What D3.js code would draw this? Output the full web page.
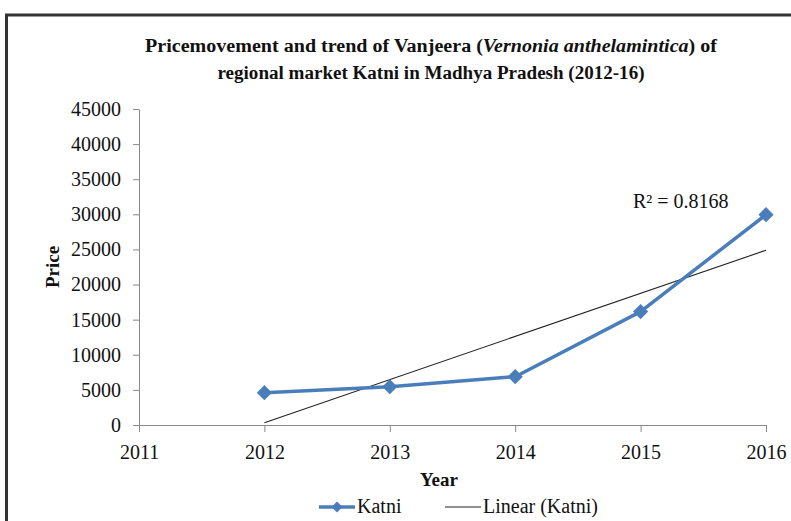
<!DOCTYPE html>
<html>
<head>
<meta charset="utf-8">
<script src="https://cdn.jsdelivr.net/npm/d3@7"></script>
<style>
  body { margin: 0; background: #fff; }
  svg text { font-family: "Liberation Serif", "DejaVu Serif", serif !important; fill: #111; }
</style>
</head>
<body>
<script>
const wi = 791, hi = 521;     // width & height
const years = [2012, 2013, 2014, 2015, 2016];
const prices = [4600, 5450, 6880, 16150, 29950];
const yTicks = [0, 5000, 10000, 15000, 20000, 25000, 30000, 35000, 40000, 45000];
const xTicks = [2011, 2012, 2013, 2014, 2015, 2016];
const r2Label = 'R² = 0.8168';

const serif = '"Liberation Serif", "DejaVu Serif", serif';
const margin = {left: 139, right: 25, top: 109, bottom: 96};

let svg = d3.select('body')
    .append('svg')
    .attr('width', wi)
    .attr('height', hi)
    .attr('font-family', serif);

// outer frame (only top and left edges show)
svg.append('path')
    .attr('d', `M6.5,${hi} V15 H${wi}`)
    .attr('fill', 'none')
    .attr('stroke', '#333')
    .attr('stroke-width', 3);

let x = d3.scaleLinear().domain([2011, 2016]).range([margin.left, wi - margin.right]);
let y = d3.scaleLinear().domain([0, 45000]).range([hi - margin.bottom, margin.top]);

// axes
let xAxis = svg.append('g')
    .attr('transform', `translate(0,${y(0)})`)
    .call(d3.axisBottom(x).tickValues(xTicks).tickFormat(d3.format('d')).tickSize(7).tickSizeOuter(0).tickPadding(13));
let yAxis = svg.append('g')
    .attr('transform', `translate(${x(2011)},0)`)
    .call(d3.axisLeft(y).tickValues(yTicks).tickFormat(d => d).tickSize(6).tickSizeOuter(0).tickPadding(12));

[xAxis, yAxis].forEach(g => {
    g.attr('font-family', serif).attr('font-size', 20);
    g.select('.domain').attr('stroke', '#888');
    g.selectAll('.tick line').attr('stroke', '#888');
    g.selectAll('.tick text').attr('fill', '#111');
});

// linear trend from the data (least squares)
let n = years.length;
let mx = d3.mean(years), my = d3.mean(prices);
let slope = d3.sum(years, (d, i) => (d - mx) * (prices[i] - my)) / d3.sum(years, d => (d - mx) ** 2);
let icpt = my - slope * mx;
let trend = [years[0], years[n - 1]].map(d => ({year: d, price: icpt + slope * d}));

let line = d3.line()
    .x(d => x(d.year))
    .y(d => y(d.price));

svg.append('path')
    .attr('d', line(trend))
    .attr('stroke', '#222')
    .attr('stroke-width', 1.1)
    .attr('fill', 'none');

let series = years.map((d, i) => ({year: d, price: prices[i]}));
svg.append('path')
    .attr('d', line(series))
    .attr('stroke', '#4a7ebb')
    .attr('stroke-width', 3.5)
    .attr('stroke-linejoin', 'round')
    .attr('fill', 'none');

let diamond = d3.symbol(d3.symbolSquare, 115);
svg.selectAll('.pt')
    .data(series)
    .enter()
    .append('path')
    .attr('class', 'pt')
    .attr('d', diamond)
    .attr('transform', d => `translate(${x(d.year)},${y(d.price)}) rotate(45)`)
    .attr('fill', '#4a7ebb');

// R² label
svg.append('text')
    .attr('x', 633)
    .attr('y', 208)
    .attr('font-size', 20)
    .text(r2Label);

// title
let title = svg.append('g').attr('font-weight', 'bold').attr('font-size', 18);
let t1 = title.append('text')
    .attr('x', 431).attr('y', 52)
    .attr('text-anchor', 'middle')
    .attr('textLength', 572).attr('lengthAdjust', 'spacingAndGlyphs');
t1.append('tspan').text('Pricemovement and trend of Vanjeera (');
t1.append('tspan').attr('font-style', 'italic').text('Vernonia anthelamintica');
t1.append('tspan').text(') of');
title.append('text')
    .attr('x', 431).attr('y', 79)
    .attr('text-anchor', 'middle')
    .attr('textLength', 427).attr('lengthAdjust', 'spacingAndGlyphs')
    .text('regional market Katni in Madhya Pradesh (2012-16)');

// axis titles
svg.append('text')
    .attr('transform', `translate(59,${(y(0) + y(45000)) / 2}) rotate(-90)`)
    .attr('text-anchor', 'middle')
    .attr('font-weight', 'bold')
    .attr('font-size', 19)
    .text('Price');
svg.append('text')
    .attr('x', 439).attr('y', 486)
    .attr('text-anchor', 'middle')
    .attr('font-weight', 'bold')
    .attr('font-size', 19)
    .text('Year');

// legend
let lg = svg.append('g').attr('transform', 'translate(0,507)');
lg.append('line').attr('x1', 319).attr('x2', 355).attr('y1', 0).attr('y2', 0)
    .attr('stroke', '#4a7ebb').attr('stroke-width', 3.5);
lg.append('path').attr('d', d3.symbol(d3.symbolSquare, 60))
    .attr('transform', 'translate(337,0) rotate(45)').attr('fill', '#4a7ebb');
lg.append('text').attr('x', 357).attr('y', 6).attr('font-size', 20).text('Katni');
lg.append('line').attr('x1', 445).attr('x2', 481).attr('y1', 0).attr('y2', 0)
    .attr('stroke', '#222').attr('stroke-width', 1.1);
lg.append('text').attr('x', 483).attr('y', 6).attr('font-size', 20).text('Linear (Katni)');
</script>
</body>
</html>
